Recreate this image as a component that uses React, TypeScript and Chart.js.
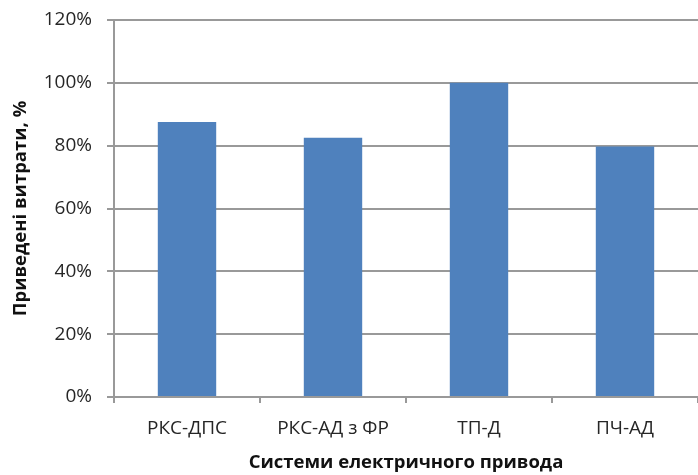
import React, { useEffect, useRef } from "react";
import { Chart, registerables } from "chart.js";

Chart.register(...registerables);

// Normalised costs per electric drive system, in percent
const categories: string[] = ["РКС-ДПС", "РКС-АД з ФР", "ТП-Д", "ПЧ-АД"];
const costValues: number[] = [87.5, 82.5, 100, 79.7];
const yTicks: number[] = [0, 20, 40, 60, 80, 100, 120];

const xTitle = "Системи електричного привода";
const yTitle = "Приведені витрати, %";

const FONT = "'Open Sans', 'Lato', sans-serif";
const GRID = "#999999";
const TEXT = "#262626";

export default function App() {
  const ref = useRef<HTMLCanvasElement | null>(null);

  useEffect(() => {
    if (!ref.current) return;
    const chart = new Chart(ref.current, {
      type: "bar",
      data: {
        labels: categories,
        datasets: [
          {
            data: costValues,
            backgroundColor: "#4f81bd",
            borderWidth: 0,
            categoryPercentage: 1,
            barPercentage: 0.4,
          },
        ],
      },
      options: {
        animation: false,
        responsive: false,
        devicePixelRatio: 1,
        layout: { padding: { top: 20, left: 0, right: 0, bottom: 0 } },
        plugins: {
          legend: { display: false },
          tooltip: { enabled: false },
        },
        scales: {
          x: {
            grid: {
              offset: true,
              drawOnChartArea: false,
              drawTicks: true,
              tickLength: 6,
              color: GRID,
              lineWidth: 2,
            },
            border: { display: true, color: GRID, width: 2 },
            ticks: {
              color: TEXT,
              font: { family: FONT, size: 19 },
              padding: 14,
              maxRotation: 0,
              autoSkip: false,
            },
            title: {
              display: true,
              text: xTitle,
              color: "#111",
              font: { family: FONT, size: 18.5, weight: "bold" },
              padding: { top: 0, bottom: 1 },
            },
            afterFit: (scale: any) => {
              scale.height = 78;
              scale.paddingLeft = 0;
              scale.paddingRight = 0;
            },
          },
          y: {
            min: 0,
            max: 120,
            afterBuildTicks: (scale: any) => {
              scale.ticks = yTicks.map((v) => ({ value: v }));
            },
            grid: {
              color: GRID,
              lineWidth: 2,
              drawTicks: true,
              tickLength: 7,
            },
            border: { display: true, color: GRID, width: 2 },
            ticks: {
              color: TEXT,
              font: { family: FONT, size: 19 },
              padding: 15,
              callback: (v: any) => `${v}%`,
            },
            title: {
              display: true,
              text: yTitle,
              color: "#111",
              font: { family: FONT, size: 18.5, weight: "bold" },
              padding: { top: 10, bottom: 0 },
            },
            afterFit: (scale: any) => {
              scale.width = 114;
              scale.paddingTop = 0;
              scale.paddingBottom = 0;
            },
          },
        },
      },
    });
    return () => chart.destroy();
  }, []);

  return (
    <div style={{ position: "fixed", left: 0, top: 0, width: 698, height: 475, background: "#fff" }}>
      <canvas ref={ref} width={698} height={475} style={{ width: 698, height: 475, display: "block" }} />
    </div>
  );
}
